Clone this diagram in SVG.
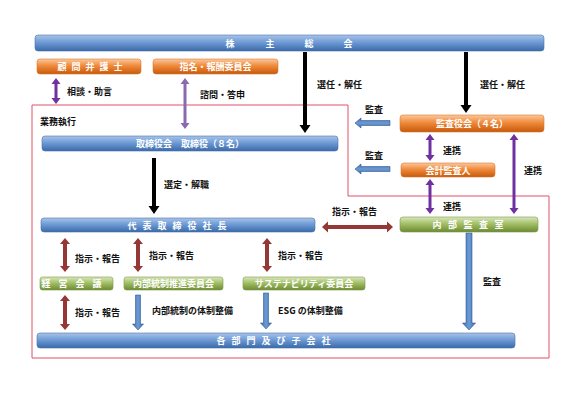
<svg xmlns="http://www.w3.org/2000/svg" width="585" height="418" viewBox="0 0 585 418">
<defs>
<linearGradient id="gBlue" x1="0" y1="0" x2="0" y2="1">
<stop offset="0" stop-color="#a9c4e8"/><stop offset="0.45" stop-color="#6f9bd6"/><stop offset="1" stop-color="#3a6aa8"/>
</linearGradient>
<linearGradient id="gOrange" x1="0" y1="0" x2="0" y2="1">
<stop offset="0" stop-color="#fbc89e"/><stop offset="0.45" stop-color="#f08a3a"/><stop offset="1" stop-color="#c65a0c"/>
</linearGradient>
<linearGradient id="gGreen" x1="0" y1="0" x2="0" y2="1">
<stop offset="0" stop-color="#d9e6bf"/><stop offset="0.45" stop-color="#a3c066"/><stop offset="1" stop-color="#6c8a34"/>
</linearGradient>
<linearGradient id="gArrowB" x1="0" y1="0" x2="1" y2="0">
<stop offset="0" stop-color="#3e6eb0"/><stop offset="0.5" stop-color="#6d9ad4"/><stop offset="1" stop-color="#3e6eb0"/>
</linearGradient>
<linearGradient id="gArrowBh" x1="0" y1="0" x2="0" y2="1">
<stop offset="0" stop-color="#3e6eb0"/><stop offset="0.5" stop-color="#6d9ad4"/><stop offset="1" stop-color="#3e6eb0"/>
</linearGradient>
</defs>
<style>
.bar{fill:url(#gBlue);stroke:#4a74ad;stroke-width:0.6}
.org{fill:url(#gOrange);stroke:#d77a30;stroke-width:0.6}
.grn{fill:url(#gGreen);stroke:#7e9a48;stroke-width:0.6}
.bt{font-family:"Noto Sans CJK JP","Noto Sans",sans-serif;font-weight:bold;font-size:9px;fill:#ffffff}
.lb{font-family:"Noto Sans CJK JP","Noto Sans",sans-serif;font-weight:bold;font-size:9px;fill:#111111}
.blk{fill:#000000}
.pur{fill:#7030a0}
.lpur{fill:#8a6aae}
.dred{fill:#953735}
.blu{fill:url(#gArrowB);stroke:#2f5a94;stroke-width:0.6}
.bluh{fill:url(#gArrowBh);stroke:#2f5a94;stroke-width:0.6}
.frame{fill:none;stroke:#e0506a;stroke-width:1}
</style>
<rect width="585" height="418" fill="#ffffff"/>

<path class="frame" d="M32,105 H348 V196 H549 V358 H32 Z"/>

<g id="connectors">
<polygon class="pur" points="56,78 60.5,84 57.5,84 57.5,98 60.5,98 56,104 51.5,98 54.5,98 54.5,84 51.5,84"/>
<polygon class="lpur" points="185,78 189.5,84 186.5,84 186.5,123 189.5,123 185,129 180.5,123 183.5,123 183.5,84 180.5,84"/>
<polygon class="blk" points="303,52 307,52 307,125 310.5,125 305,133 299.5,125 303,125"/>
<polygon class="blk" points="464,52 468,52 468,105 471.5,105 466,113 460.5,105 464,105"/>
<polygon class="blk" points="152,158 156,158 156,206 159.5,206 154,214 148.5,206 152,206"/>
<polygon class="pur" points="430,134 434.5,140 431.5,140 431.5,155 434.5,155 430,161 425.5,155 428.5,155 428.5,140 425.5,140"/>
<polygon class="pur" points="430,179 434.5,185 431.5,185 431.5,208 434.5,208 430,214 425.5,208 428.5,208 428.5,185 425.5,185"/>
<polygon class="pur" points="514,134 518.5,140 515.5,140 515.5,208 518.5,208 514,214 509.5,208 512.5,208 512.5,140 509.5,140"/>
<polygon class="bluh" points="390,120.5 361,120.5 361,118 355,123 361,128 361,125.5 390,125.5"/>
<polygon class="bluh" points="390,166.5 361,166.5 361,164 355,169 361,174 361,171.5 390,171.5"/>
<polygon class="blu" points="466,233 472,233 472,323 475.5,323 469,330 462.5,323 466,323"/>
<polygon class="blu" points="135.5,295 140.5,295 140.5,324 143.5,324 138,330 132.5,324 135.5,324"/>
<polygon class="blu" points="263.5,293 268.5,293 268.5,323 271.5,323 266,329 260.5,323 263.5,323"/>
<polygon class="dred" points="322,227 328,221.5 328,225 387,225 387,221.5 393,227 387,232.5 387,229 328,229 328,232.5"/>
<polygon class="dred" points="65,238 70,244 67,244 67,266 70,266 65,272 60,266 63,266 63,244 60,244"/>
<polygon class="dred" points="138,238 143,244 140,244 140,266 143,266 138,272 133,266 136,266 136,244 133,244"/>
<polygon class="dred" points="267,238 272,244 269,244 269,266 272,266 267,272 262,266 265,266 265,244 262,244"/>
<polygon class="dred" points="65,295 70,301 67,301 67,324 70,324 65,330 60,324 63,324 63,301 60,301"/>

<text class="lb" x="67" y="95">相談・助言</text>
<text class="lb" x="200" y="98">諮問・答申</text>
<text class="lb" x="317" y="88">選任・解任</text>
<text class="lb" x="480" y="88">選任・解任</text>
<text class="lb" x="40" y="125">業務執行</text>
<text class="lb" x="365" y="113">監査</text>
<text class="lb" x="365" y="159">監査</text>
<text class="lb" x="443" y="154">連携</text>
<text class="lb" x="524" y="174">連携</text>
<text class="lb" x="443" y="210">連携</text>
<text class="lb" x="164" y="188">選定・解職</text>
<text class="lb" x="332" y="215">指示・報告</text>
<text class="lb" x="75" y="262">指示・報告</text>
<text class="lb" x="149" y="259">指示・報告</text>
<text class="lb" x="278" y="259">指示・報告</text>
<text class="lb" x="75" y="316">指示・報告</text>
<text class="lb" x="152" y="314">内部統制の体制整備</text>
<text class="lb" x="278" y="314">ESG の体制整備</text>
<text class="lb" x="483" y="285">監査</text>
</g>

<g id="shareholders">
<rect class="bar" x="35" y="35" width="509" height="16" rx="3"/>
<text class="bt" x="230" y="46.5" text-anchor="middle">株</text>
<text class="bt" x="270" y="46.5" text-anchor="middle">主</text>
<text class="bt" x="309" y="46.5" text-anchor="middle">総</text>
<text class="bt" x="348" y="46.5" text-anchor="middle">会</text>
</g>

<g id="lawyer">
<rect class="org" x="37" y="59" width="104" height="15" rx="3"/>
<text class="bt" x="57.5" y="70" letter-spacing="5">顧問弁護士</text>
</g>

<g id="nomination">
<rect class="org" x="153" y="59" width="125" height="15" rx="3"/>
<text class="bt" x="215.5" y="70" text-anchor="middle" font-size="9.5">指名・報酬委員会</text>
</g>

<g id="board">
<rect class="bar" x="42" y="136" width="296" height="15" rx="3"/>
<text class="bt" x="190" y="147" text-anchor="middle">取締役会　取締役（８名）</text>
</g>

<g id="auditors">
<rect class="org" x="400" y="115" width="144" height="17" rx="3"/>
<text class="bt" x="472" y="127" text-anchor="middle">監査役会（４名）</text>
</g>

<g id="accounting-auditor">
<rect class="org" x="401" y="163" width="94" height="14" rx="3"/>
<text class="bt" x="448" y="173.5" text-anchor="middle" font-size="9.5">会計監査人</text>
</g>

<g id="president">
<rect class="bar" x="41" y="218" width="274" height="14" rx="3"/>
<text class="bt" x="127.5" y="228.5" letter-spacing="6">代表取締役社長</text>
</g>

<g id="internal-audit">
<rect class="grn" x="400" y="217" width="138" height="15" rx="3"/>
<text class="bt" x="432.5" y="228" letter-spacing="6.5">内部監査室</text>
</g>

<g id="management-meeting">
<rect class="grn" x="40" y="277" width="73" height="13" rx="2.5"/>
<text class="bt" x="41.5" y="287" letter-spacing="8">経営会議</text>
</g>

<g id="internal-control">
<rect class="grn" x="124" y="277" width="99" height="13" rx="2.5"/>
<text class="bt" x="173.5" y="287" text-anchor="middle" font-size="9.8">内部統制推進委員会</text>
</g>

<g id="sustainability">
<rect class="grn" x="243" y="277" width="122" height="13" rx="2.5"/>
<text class="bt" x="304" y="287" text-anchor="middle" font-size="10">サステナビリティ委員会</text>
</g>

<g id="departments">
<rect class="bar" x="37" y="333" width="478" height="15" rx="3"/>
<text class="bt" x="216.5" y="344" letter-spacing="6">各部門及び子会社</text>
</g>
</svg>
